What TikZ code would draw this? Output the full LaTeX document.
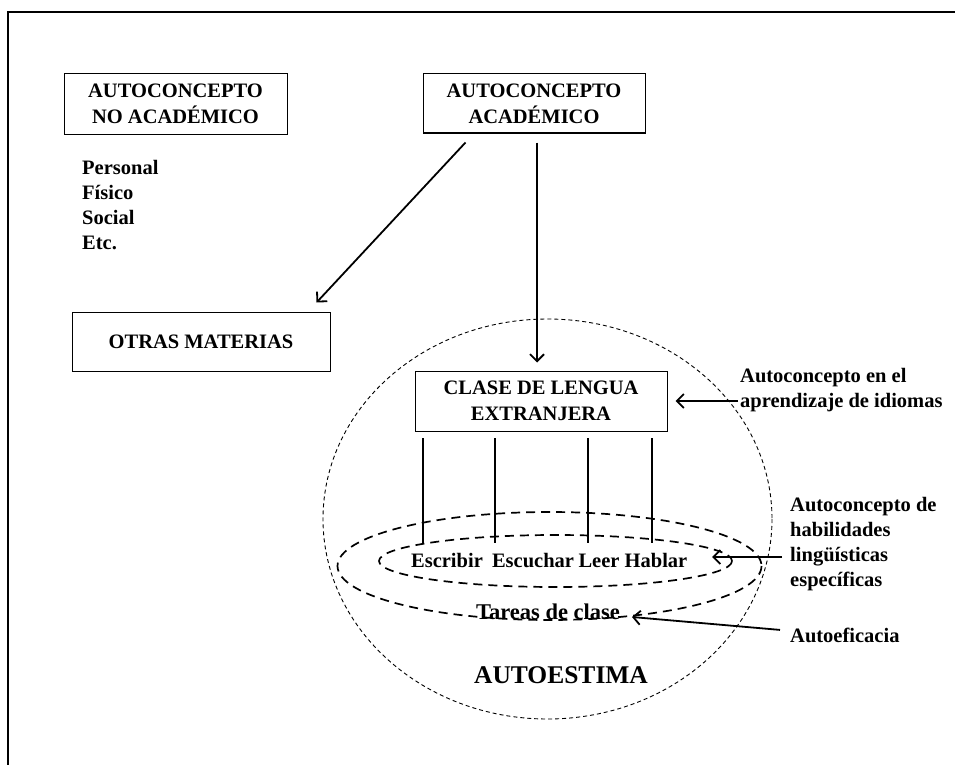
\documentclass[tikz,border=0pt]{standalone}
\usepackage{fontspec}
\setmainfont{Liberation Serif}
\usepackage{tikz}
\usetikzlibrary{arrows,arrows.meta}
\usetikzlibrary{shapes.geometric}

\begin{document}
\begin{tikzpicture}[x=1pt,y=-1pt]
            \tikzstyle{box}=[draw=black,line width=1pt,align=center,inner sep=0pt,font=\bfseries\fontsize{20.5}{26}\selectfont]
            \tikzstyle{lbl}=[align=left,inner sep=0pt,font=\bfseries\fontsize{20.5}{25}\selectfont]
            \tikzstyle{arrow}=[draw=black,line width=1.8pt,-{Straight Barb[length=7pt,width=14pt]}]
            \tikzstyle{dline}=[draw=black,line width=1.3pt,-]

            \useasboundingbox (0,0) rectangle (955,765);
            \draw[line width=2pt] (8,765) -- (8,12) -- (955,12);

            % boxes
            \node[box,minimum width=223,minimum height=60] (noacad) at (175.5,104) {AUTOCONCEPTO\\NO ACAD\'EMICO};
            \node[box,minimum width=222,minimum height=59] (acad)   at (534,103.5) {AUTOCONCEPTO\\ACAD\'EMICO};
            \node[box,minimum width=258,minimum height=59] (otras)  at (201,341.5) {OTRAS MATERIAS};
            \node[box,minimum width=252,minimum height=60] (clase)  at (541,401)   {CLASE DE LENGUA\\EXTRANJERA};

            \node[lbl,anchor=north west] (tipos) at (82,160) {Personal\\F\'isico\\Social\\Etc.};

            % ellipses
            \draw[line width=0.9pt,dash pattern=on 4pt off 3pt] (547.5,519) ellipse (224.5 and 200);
            \draw[line width=1.7pt,dash pattern=on 9pt off 6pt] (549.5,566) ellipse (212 and 54);
            \draw[line width=1.7pt,dash pattern=on 9pt off 6pt] (555.5,561) ellipse (176.5 and 26);

            \node[lbl,anchor=base] (escribir) at (447,567) {Escribir};
            \node[lbl,anchor=base] (escuchar) at (533,567) {Escuchar};
            \node[lbl,anchor=base] (leer)     at (599,567) {Leer};
            \node[lbl,anchor=base] (hablar)   at (656,567) {Hablar};

            \node[lbl,anchor=base,font=\bfseries\fontsize{22.5}{26}\selectfont] (tareas) at (548,619) {Tareas de clase};
            \node[lbl,anchor=base,font=\bfseries\fontsize{25.5}{30}\selectfont] (estima) at (561,683) {AUTOESTIMA};

            % right labels
            \node[lbl,anchor=north west] (idiomas) at (740,368) {Autoconcepto en el\\aprendizaje de idiomas};
            \node[lbl,anchor=north west] (habil)   at (790,497) {Autoconcepto de\\habilidades\\ling\"u\'isticas\\espec\'ificas};
            \node[lbl,anchor=base west]  (eficacia) at (790,642) {Autoeficacia};

            \coordinate (habtip) at (712,557);
            \coordinate (tartip) at (632,617);

            \foreach \x in {423,495,588,652}
                \path[dline] (\x,438) -- (\x,543);

            \path[arrow] ([xshift=43pt,yshift=-9pt]acad.south west) -- ([xshift=-14pt,yshift=9pt]otras.north east);
            \path[arrow] ([xshift=3pt,yshift=-9pt]acad.south) -- ([xshift=-4pt,yshift=8pt]clase.north);
            \path[arrow] ([xshift=-2pt]idiomas.west |- clase.east) -- ([xshift=8pt]clase.east);
            \path[arrow] (782,557) -- (habtip);
            \path[arrow] ([xshift=-10pt,yshift=5pt]eficacia.west) -- (tartip);
        \end{tikzpicture}
\end{document}
